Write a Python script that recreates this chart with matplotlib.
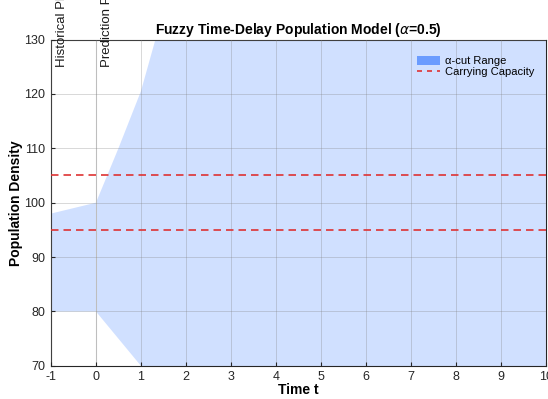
import numpy as np
import matplotlib.pyplot as plt
from matplotlib.patches import Patch
from matplotlib.lines import Line2D

plt.rcParams['font.family'] = ['Liberation Sans', 'DejaVu Sans']
plt.rcParams['axes.unicode_minus'] = False

# alpha-cut bounds
t = [-1, 0, 0.5, 1, 2, 3, 4, 5, 6, 7, 8, 9, 10]
upper = [98, 100, 110, 120.5, 150, 180, 210, 240, 270, 300, 330, 360, 390]
lower = [80, 80, 75, 70, 60, 50, 40, 30, 20, 10, 0, -10, -20]
capacity_levels = [95, 105]
phase_labels = ['Historical Phase', 'Prediction Phase']
phase_x = [-1, 0]

red = (0.87, 0.2, 0.2)
blue = (0.4, 0.6, 1.0)

fig = plt.figure(figsize=(5.48, 3.99), dpi=100)
ax = fig.add_axes([0.093, 0.083, 0.903, 0.818])

ax.fill_between(t, lower, upper, color=blue, alpha=0.3, linewidth=0, zorder=1)
for c in capacity_levels:
    ax.axhline(c, color=red, linestyle=(0, (4.5, 3)), linewidth=1.2, zorder=3)

for x, lab in zip(phase_x, phase_labels):
    ax.axvline(x, color='0.85', linewidth=0.8, zorder=2)
    ax.text(x + 0.11, 125.0, lab, rotation=90, ha='left', va='bottom',
            fontsize=9.5, color='0.1')

ax.set_xlim(-1, 10)
ax.set_ylim(70, 130)
ax.set_xticks(range(-1, 11))
ax.set_yticks(range(70, 131, 10))
ax.grid(True, color='0.5', alpha=0.3, linewidth=0.7, zorder=2)
ax.set_axisbelow(False)
ax.tick_params(direction='in', length=3, labelsize=9, colors='0.15', pad=4)
for s in ax.spines.values():
    s.set_color('0.15')
    s.set_linewidth(0.8)

ax.set_title(r'Fuzzy Time-Delay Population Model ($\alpha$=0.5)',
             fontsize=10, fontweight='bold', pad=4)
ax.set_xlabel('Time t', fontsize=10, fontweight='bold', labelpad=0)
ax.set_ylabel('Population Density', fontsize=10, fontweight='bold', labelpad=1)

handles = [Patch(facecolor=blue, edgecolor='none', alpha=0.95),
           Line2D([0], [0], color=red, linestyle=(0, (3, 3)), linewidth=1.2)]
ax.legend(handles, ['α-cut Range', 'Carrying Capacity'], loc='upper right',
          bbox_to_anchor=(0.985, 0.962), frameon=False, fontsize=8,
          handlelength=2.1, handleheight=0.8, borderaxespad=0,
          labelspacing=0.0, handletextpad=0.4)

fig.savefig('out.png', dpi=100)
